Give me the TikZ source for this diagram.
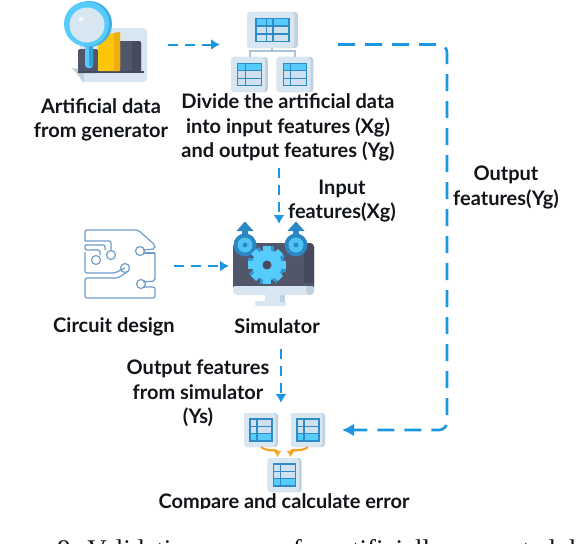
\documentclass[tikz,border=0pt]{standalone}
\usepackage{fontspec}
\setmainfont{Lato}
\newfontfamily\captionfont{Liberation Serif}
\usepackage{tikz}
\usetikzlibrary{arrows.meta,positioning,calc}
\definecolor{Ink}{HTML}{111418}
\definecolor{Flow}{HTML}{1C96E0}
\definecolor{Amber}{HTML}{F8A324}
\definecolor{CardFill}{HTML}{D8E6F1}
\definecolor{CardShade}{HTML}{BFD0DE}
\definecolor{TableFill}{HTML}{CFE0EE}
\definecolor{TableLine}{HTML}{2F8AC6}
\definecolor{Sky}{HTML}{55CCFC}
\definecolor{Slate}{HTML}{52566B}
\definecolor{SlateDark}{HTML}{474A5E}
\definecolor{Gold}{HTML}{FBC60A}
\definecolor{GoldDark}{HTML}{F0AE0C}
\definecolor{GearDark}{HTML}{2A87C4}
\definecolor{Trace}{HTML}{6F9CC9}
\definecolor{Branch}{HTML}{A9C3DC}
\tikzset{
  label/.style={font=\fontsize{20}{24.3}\selectfont\bfseries,text=Ink,align=center,inner sep=0pt},
  iconbox/.style={inner sep=0pt,outer sep=0pt},
  dashArrow/.style={-{Latex[length=9pt,width=11pt]},line width=2pt,draw=Flow,dash pattern=on 10pt off 7pt},
  wideArrow/.style={-{Latex[length=12pt,width=13pt]},line width=2.6pt,draw=Flow,rounded corners=8pt,dash pattern=on 17pt off 10pt},
  amberArrow/.style={-{Latex[length=6pt,width=8pt]},line width=2.2pt,draw=Amber},
  traceLine/.style={draw=Trace,line width=1.2pt,rounded corners=2pt},
  pics/tablecard/.style 2 args={code={
    \fill[CardShade,rounded corners=3pt] (-17,-17) rectangle (17,17);
    \fill[CardFill,rounded corners=3pt] (-17,-17) rectangle (14.5,17);
    \fill[TableFill] (-11,-11) rectangle (11,11);
    \fill[Sky] (-11,#1) rectangle (11,#2);
    \draw[TableLine,line width=1.2pt] (-11,-11) rectangle (11,11) (-11,-3.7)--(11,-3.7) (-11,3.7)--(11,3.7) (-4,-11)--(-4,11);
  }},
  pics/smallgear/.style={code={
    \fill[GearDark] (0,0) circle[radius=11.5];
    \fill[GearDark] (-2.6,-8) rectangle (2.6,-14);
    \fill[GearDark] (-8.5,-14) -- (8.5,-14) -- (0,-23.5) -- cycle;
    \fill[Sky!85!GearDark] (0,0) circle[radius=7.5];
    \fill[GearDark] (0,0) circle[radius=2.4];
  }},
  pics/biggear/.style={code={
    \foreach \a in {0,45,...,315} {
      \fill[GearDark!80!Sky,rotate=\a,shift={(3,0)}] (-3.6,-19) rectangle (3.6,0);
    }
    \fill[GearDark!80!Sky] (3,0) circle[radius=15];
    \foreach \a in {0,45,...,315} {
      \fill[Sky,rotate=\a] (-3.6,-19) rectangle (3.6,0);
    }
    \fill[Sky] (0,0) circle[radius=15];
    \fill[SlateDark] (0,0) circle[radius=4.5];
  }}
}
\begin{document}
\begin{tikzpicture}[x=1pt,y=-1pt]
  \useasboundingbox (0,0) rectangle (582,544);
  \clip (0,0) rectangle (582,544);
  % generator icon
  \node[iconbox,minimum width=76pt,minimum height=78pt] (gen) at (110,44.5) {};
  \fill[CardFill,rounded corners=4pt] (80,28) rectangle (147,82);
  \fill[CardShade] (72,68) -- (84,70) -- (84,82) -- cycle;
  \fill[Slate,rounded corners=2pt] (78,49) rectangle (98,73);
  \fill[Slate,rounded corners=2pt] (118,41) rectangle (141,72);
  \fill[SlateDark,rounded corners=2pt] (132,41) rectangle (141,72);
  \fill[SlateDark] (78,71) rectangle (144,73);
  \fill[Gold,rounded corners=2pt] (98,71) -- (98,36) -- (120,32) -- (120,71) -- cycle;
  \fill[GoldDark] (114,33) -- (120,32) -- (120,71) -- (114,71) -- cycle;
  \fill[Sky,rounded corners=3pt] (85,44) rectangle (93,68);
  \fill[GearDark!70!Sky] (89,44) rectangle (93,66);
  \fill[GearDark!45!Sky] (89,24) circle[radius=23];
  \fill[Sky] (86.5,24) circle[radius=22.5];
  \fill[CardFill] (87,25) circle[radius=17.5];
  \fill[white!70!CardFill] (81,19) circle[radius=2.5];
  % table icons
  \node[iconbox,minimum width=82pt,minimum height=80pt] (divide) at (272,52) {};
  \draw[Branch,line width=2pt] (272,47)--(272,51) (250,57)--(250,51)--(295,51)--(295,57);
  \pic[xscale=1.5,yscale=1.06] at (272.5,30) {tablecard={-11}{-3.7}};
  \draw[TableLine,line width=1.2pt] (273,18.3)--(273,41.7);
  \pic[xscale=1.08,yscale=1.03] at (249.5,74.5) {tablecard={-11}{-3.7}};
  \pic[xscale=1.08,yscale=1.03] at (295,74.5) {tablecard={-11}{-3.7}};
  % circuit
  \node[iconbox,minimum width=71pt,minimum height=66pt] (circuit) at (120.5,266) {};
  \draw[traceLine] (85,241) -- (85,230) -- (138,230) -- (155,245) -- (155,249) -- (143,250);
  \draw[traceLine] (85,241) -- (111,241) -- (111,250);
  \draw[traceLine] (85,245) -- (85,250) -- (100,250) -- (100,255);
  \draw[traceLine] (85,245) -- (105,245) -- (105,250);
  \draw[traceLine] (85,252) -- (85,273) -- (115,273) -- (125,268);
  \draw[traceLine] (155,253) -- (143,253);
  \draw[traceLine] (155,253) -- (155,281) -- (143,282);
  \draw[traceLine] (143,287) -- (155,287) -- (155,298) -- (85,298) -- (85,278) -- (118,278) -- (127,272);
  \draw[Trace,line width=1.2pt] (96,260) circle[radius=4.5] (111,255) circle[radius=4.5] (125,268) circle[radius=4.5] (140,251) circle[radius=4.5] (141,284) circle[radius=4.5];
  % simulator
  \node[iconbox,minimum width=81pt,minimum height=82pt] (sim) at (273.5,265) {};
  \fill[CardFill,rounded corners=2pt] (255,301) rectangle (286,306);
  \fill[CardFill] (265,294) rectangle (280,302);
  \fill[CardShade] (280,294) rectangle (285,302);
  \fill[Slate,rounded corners=4pt] (233,243) rectangle (314,290);
  \fill[SlateDark,rounded corners=4pt] (304,243) rectangle (314,290);
  \fill[CardFill,rounded corners=4pt] (233,285) rectangle (314,295);
  \fill[CardShade,rounded corners=4pt] (306,285) rectangle (314,295);
  \fill[Slate] (233,283) rectangle (314,286);
  \pic at (245,245) {smallgear};
  \pic at (296,245) {smallgear};
  \pic at (267,265) {biggear};
  % compare cards
  \node[iconbox,minimum width=34pt,minimum height=34pt] (cardA) at (261,430) {};
  \node[iconbox,minimum width=34pt,minimum height=34pt] (cardB) at (308,430) {};
  \node[iconbox,minimum width=34pt,minimum height=34pt] (cardC) at (284.5,475) {};
  \pic at (cardA) {tablecard={3.7}{11}};
  \pic at (cardB) {tablecard={3.7}{11}};
  \pic at (cardC) {tablecard={3.7}{11}};
  % labels
  \node[label] (genText) at (101,120) {Artificial data\\from generator};
  \node[label] (divideText) at (288,127.5) {Divide the artificial data\\into input features (Xg)\\and output features (Yg)};
  \node[label] (inText) at (342,201) {Input\\features(Xg)};
  \node[label] (outgText) at (506,187.5) {Output\\features(Yg)};
  \node[label] (circuitText) at (114,326.5) {Circuit design};
  \node[label] (simText) at (277,326.5) {Simulator};
  \node[label] (outsText) at (198,393.5) {Output features\\from simulator\\(Ys)};
  \node[label] (cmpText) at (284,503) {Compare and calculate error};
  \fill[white] (140,509) rectangle (430,522);
  \node[font=\captionfont\fontsize{27}{30}\selectfont,text=Ink,anchor=base west,inner sep=0pt] (captionText) at (-20,558.5) {Figure 9: Validation process for artificially generated data};
  % connectors
  \coordinate (inTop) at (279,168);
  \coordinate (simOut) at (281,349);
  \coordinate (cmpIn) at (281,403);
  \coordinate (turn) at (447,240);
  \draw[dashArrow,shorten <=20pt,shorten >=11pt] (gen.east) -- (gen.east -| divide.west);
  \draw[dashArrow] (inTop) -- (inTop |- sim.north);
  \draw[dashArrow,shorten <=18pt,shorten >=4pt] (circuit.east) -- (circuit.east -| sim.west);
  \draw[dashArrow] (simOut) -- (cmpIn);
  \draw[wideArrow,shorten <=25pt,shorten >=17pt] (divide.east |- gen.east) -| (turn) |- (cardB.east);
  \draw[amberArrow] (cardA.south) to[out=-40,in=90,looseness=1.1] ($(cardC.north)+(-7,-1)$);
  \draw[amberArrow] (cardB.south) to[out=-140,in=90,looseness=1.1] ($(cardC.north)+(6,-1)$);
\end{tikzpicture}
\end{document}
